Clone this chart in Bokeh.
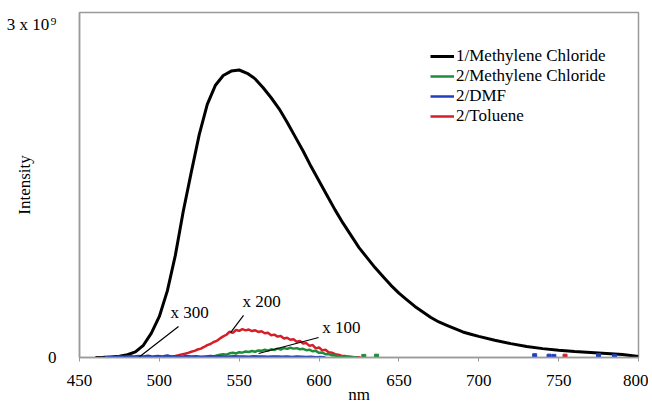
from bokeh.plotting import figure
from bokeh.models import Range1d, FixedTicker, Label, Legend, LegendItem
from bokeh.embed import file_html
from bokeh.resources import INLINE

# ---------------- data (intensity in units of 10^9) ----------------
nm_ticks = [450, 500, 550, 600, 650, 700, 750, 800]
y_ticks = [0, 3]
y_tick_labels = {0: "0", 3: "3 x 10\u200a\u2079"}

series_names = ["1/Methylene Chloride", "2/Methylene Chloride", "2/DMF", "2/Toluene"]

black_nm = [460, 465, 470, 475, 480, 485, 490, 495, 500, 505, 510, 515, 520, 525,
            530, 535, 540, 545, 550, 555, 560, 565, 570, 575, 580, 585, 590, 595,
            600, 605, 610, 615, 620, 625, 630, 635, 640, 645, 650, 655, 660, 665,
            670, 675, 680, 685, 690, 695, 700, 710, 720, 730, 740, 750, 760, 770,
            780, 790, 800]
black_int = [0.0, 0.002, 0.005, 0.012, 0.025, 0.05, 0.11, 0.22, 0.37, 0.60, 0.92,
             1.32, 1.67, 2.01, 2.28, 2.45, 2.54, 2.58, 2.59, 2.56, 2.51, 2.43, 2.34,
             2.24, 2.12, 1.99, 1.86, 1.72, 1.59, 1.46, 1.33, 1.21, 1.10, 0.99, 0.90,
             0.81, 0.73, 0.65, 0.58, 0.52, 0.46, 0.41, 0.36, 0.32, 0.29, 0.26, 0.23,
             0.21, 0.19, 0.155, 0.125, 0.10, 0.08, 0.065, 0.054, 0.045, 0.036, 0.026,
             0.01]

red_nm = [496, 498, 500, 502, 504, 506, 508, 510, 512, 514, 516, 518, 520, 522,
          524, 526, 528, 530, 532, 534, 536, 538, 540, 542, 544, 546, 548, 550,
          552, 554, 556, 558, 560, 562, 564, 566, 568, 570, 572, 574, 576, 578,
          580, 582, 584, 586, 588, 590, 592, 594, 596, 598, 600, 602, 604, 606,
          608, 610, 612, 614, 616, 618, 620, 622, 624, 626]
red_int = [0.002, 0.000, 0.004, 0.003, 0.006, 0.004, 0.010, 0.014, 0.020, 0.028,
           0.034, 0.042, 0.052, 0.060, 0.072, 0.080, 0.095, 0.112, 0.122, 0.140,
           0.150, 0.172, 0.190, 0.205, 0.232, 0.222, 0.248, 0.240, 0.255, 0.244,
           0.252, 0.238, 0.245, 0.230, 0.236, 0.218, 0.222, 0.200, 0.206, 0.188,
           0.194, 0.172, 0.178, 0.160, 0.165, 0.142, 0.150, 0.125, 0.130, 0.105,
           0.112, 0.082, 0.090, 0.064, 0.070, 0.048, 0.044, 0.030, 0.026, 0.016,
           0.014, 0.008, 0.006, 0.002, 0.003, 0.000]
red_dot_nm = [754]
red_dot_int = [0.012]

green_nm = [530, 532, 534, 536, 538, 540, 542, 544, 546, 548, 550, 552, 554, 556,
            558, 560, 562, 564, 566, 568, 570, 572, 574, 576, 578, 580, 582, 584,
            586, 588, 590, 592, 594, 596, 598, 600, 602, 604, 606, 608, 610, 612,
            614, 616, 618, 620, 622, 624]
green_int = [0.000, 0.004, 0.010, 0.018, 0.024, 0.030, 0.026, 0.038, 0.042, 0.036,
             0.048, 0.044, 0.055, 0.050, 0.058, 0.052, 0.064, 0.060, 0.070, 0.062,
             0.074, 0.068, 0.080, 0.072, 0.085, 0.078, 0.088, 0.080, 0.084, 0.074,
             0.078, 0.066, 0.070, 0.056, 0.060, 0.042, 0.044, 0.030, 0.032, 0.020,
             0.018, 0.010, 0.012, 0.005, 0.006, 0.000, 0.002, 0.000]
green_dot_nm = [628, 636]
green_dot_int = [0.010, 0.012]

blue_nm = [466, 469, 472, 475, 478, 481, 484, 487, 490, 493, 496, 499, 502, 505,
           508, 511, 514, 517, 520, 523, 526, 529, 532, 535, 538, 541, 544, 547,
           550, 553, 556, 559, 562, 565, 568, 571, 574, 577, 580, 583, 586, 589,
           592, 595, 598, 601, 604]
blue_int = [0.002, 0.006, 0.004, 0.010, 0.006, 0.012, 0.008, 0.014, 0.010, 0.016,
            0.008, 0.014, 0.010, 0.018, 0.008, 0.012, 0.006, 0.014, 0.010, 0.012,
            0.006, 0.010, 0.014, 0.008, 0.012, 0.006, 0.010, 0.012, 0.008, 0.010,
            0.006, 0.012, 0.008, 0.010, 0.006, 0.008, 0.010, 0.006, 0.008, 0.004,
            0.008, 0.006, 0.004, 0.006, 0.002, 0.004, 0.000]
blue_dot_nm = [735, 744, 747, 775, 785]
blue_dot_int = [0.016, 0.012, 0.010, 0.018, 0.010]

# ---------------- styling ----------------
FONT = "Liberation Serif, Times New Roman, serif"
FS = "17px"
C_BLACK = "#000000"
C_GREEN = "#1e8c3a"
C_BLUE = "#1f3fbf"
C_RED = "#d61e2a"
C_AXIS = "#9a9a9a"

p = figure(width=648, height=406, output_backend="svg", toolbar_location=None,
           x_range=Range1d(450, 800), y_range=Range1d(0, 3.108),
           min_border_left=79, min_border_right=10, min_border_top=12,
           min_border_bottom=49)
p.background_fill_color = "white"
p.border_fill_color = "white"
p.outline_line_color = C_AXIS
p.outline_line_width = 1.5
p.xgrid.visible = False
p.ygrid.visible = False

# x axis
xa = p.xaxis[0]
xa.ticker = FixedTicker(ticks=nm_ticks)
xa.axis_line_color = C_AXIS
xa.axis_line_width = 1.5
xa.major_tick_line_color = C_AXIS
xa.major_tick_out = 4
xa.major_tick_in = 0
xa.minor_tick_line_color = None
xa.major_label_standoff = 13
xa.major_label_text_font = FONT
xa.major_label_text_font_size = FS
xa.major_label_text_color = "black"
xa.axis_label = "nm"
xa.axis_label_text_font = FONT
xa.axis_label_text_font_size = FS
xa.axis_label_text_font_style = "normal"
xa.axis_label_text_color = "black"
xa.axis_label_standoff = -4

# y axis
ya = p.yaxis[0]
ya.ticker = FixedTicker(ticks=y_ticks)
ya.major_label_overrides = y_tick_labels
ya.axis_line_color = C_AXIS
ya.axis_line_width = 1.5
ya.major_tick_line_color = None
ya.minor_tick_line_color = None
ya.major_label_standoff = 17
ya.major_label_text_font = FONT
ya.major_label_text_font_size = FS
ya.major_label_text_color = "black"
ya.axis_label = "Intensity"
ya.axis_label_text_font = FONT
ya.axis_label_text_font_size = FS
ya.axis_label_text_font_style = "normal"
ya.axis_label_text_color = "black"
ya.axis_label_standoff = -30

# series
r_black = p.line(black_nm, black_int, line_color=C_BLACK, line_width=3)
r_red = p.line(red_nm, red_int, line_color=C_RED, line_width=2.5)
p.scatter(red_dot_nm, red_dot_int, size=4, color=C_RED, marker="square")
r_green = p.line(green_nm, green_int, line_color=C_GREEN, line_width=2.5)
p.scatter(green_dot_nm, green_dot_int, size=4, color=C_GREEN, marker="square")
r_blue = p.line(blue_nm, blue_int, line_color=C_BLUE, line_width=2.5)
p.scatter(blue_dot_nm, blue_dot_int, size=4, color=C_BLUE, marker="square")

# scale-factor annotations with leader lines
ann_text = ["x 300", "x 200", "x 100"]
ann_pos = [(507, 0.405), (552, 0.505), (602, 0.27)]
lead_x0 = [512, 552.7, 599.7]
lead_y0 = [0.28, 0.38, 0.18]
lead_x1 = [487, 544.6, 562.1]
lead_y1 = [0.0, 0.225, 0.036]
p.segment(lead_x0, lead_y0, lead_x1, lead_y1, line_color="black", line_width=1.2)
for t, (ax, ay) in zip(ann_text, ann_pos):
    p.add_layout(Label(x=ax, y=ay, text=t, text_font=FONT, text_font_size=FS,
                       text_baseline="middle", text_align="left", text_color="black"))

legend = Legend(items=[
    LegendItem(label=series_names[0], renderers=[r_black]),
    LegendItem(label=series_names[1], renderers=[r_green]),
    LegendItem(label=series_names[2], renderers=[r_blue]),
    LegendItem(label=series_names[3], renderers=[r_red]),
], location=(351, 231))
legend.border_line_color = None
legend.background_fill_alpha = 0
legend.padding = 0
legend.margin = 0
legend.spacing = 0
legend.label_height = 20
legend.glyph_height = 20
legend.glyph_width = 24
legend.label_standoff = 2
legend.label_text_font = FONT
legend.label_text_font_size = FS
legend.label_text_color = "black"
p.add_layout(legend)

open("out.html", "w").write(file_html(p, INLINE))
